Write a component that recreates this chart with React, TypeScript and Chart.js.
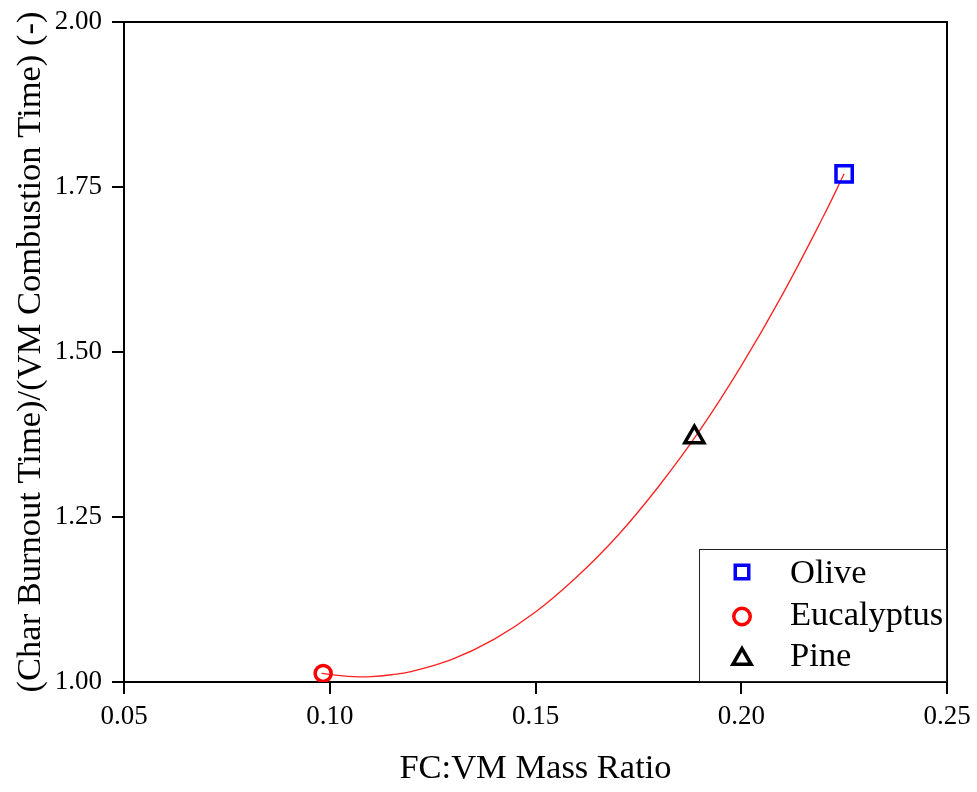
import React, { useEffect, useRef } from "react";
import { Chart, registerables } from "chart.js";

Chart.register(...registerables);

// Measured points
const oliveX = [0.225];
const oliveY = [1.77];
const eucalyptusX = [0.0984];
const eucalyptusY = [1.013];
const pineX = [0.1886];
const pineY = [1.371];

// Fitted curve
const curveX = [0.098, 0.102, 0.106, 0.11, 0.115, 0.12, 0.13, 0.14, 0.15, 0.16, 0.17, 0.18, 0.19, 0.2, 0.21, 0.22, 0.225];
const curveY = [1.013, 1.01, 1.008, 1.008, 1.011, 1.016, 1.035, 1.065, 1.106, 1.159, 1.222, 1.297, 1.382, 1.479, 1.587, 1.706, 1.77];

const xTicks = [0.05, 0.1, 0.15, 0.2, 0.25];
const yTicks = [1.0, 1.25, 1.5, 1.75, 2.0];

const legendLabels = ["Olive", "Eucalyptus", "Pine"];
const legendColors = ["#0000ff", "#ff0000", "#000000"];
const legendShapes = ["rect", "circle", "triangle"];

const FONT = "'Liberation Serif', 'Times New Roman', serif";

const zip = (xs: number[], ys: number[]) => xs.map((x, i) => ({ x, y: ys[i] }));

const framePlugin = {
  id: "frame",
  afterDraw(chart: any) {
    const { ctx, chartArea: a } = chart;
    ctx.save();
    ctx.strokeStyle = "#000";
    ctx.lineWidth = 2;
    ctx.beginPath();
    ctx.moveTo(a.left, a.top);
    ctx.lineTo(a.right, a.top);
    ctx.lineTo(a.right, a.bottom);
    ctx.stroke();

    // legend box
    const bx = a.right - 248;
    const by = a.bottom - 133;
    ctx.fillStyle = "#fff";
    ctx.fillRect(bx, by, 248, 133);
    ctx.lineWidth = 1;
    ctx.strokeStyle = "#222";
    ctx.strokeRect(bx + 0.5, by + 0.5, 247, 132);

    const rows = [574, 615.5, 657].map((v) => v - 682 + a.bottom);
    const mx = bx + 43;
    const tx = bx + 91;
    ctx.font = `34.5px ${FONT}`;
    ctx.textBaseline = "middle";
    ctx.textAlign = "left";
    legendLabels.forEach((label, i) => {
      const y = rows[i];
      ctx.strokeStyle = legendColors[i];
      ctx.lineWidth = 3.5;
      ctx.beginPath();
      if (legendShapes[i] === "rect") {
        ctx.rect(mx - 6.75, y - 2 - 6.75, 13.5, 13.5);
      } else if (legendShapes[i] === "circle") {
        ctx.arc(mx, y + 1, 8.25, 0, Math.PI * 2);
      } else {
        const r = 10.5;
        const cy = y + 2;
        ctx.moveTo(mx, cy - r);
        ctx.lineTo(mx + r * Math.sin((2 * Math.PI) / 3), cy - r * Math.cos((2 * Math.PI) / 3));
        ctx.lineTo(mx + r * Math.sin((4 * Math.PI) / 3), cy - r * Math.cos((4 * Math.PI) / 3));
        ctx.closePath();
      }
      ctx.stroke();
      ctx.fillStyle = "#000";
      ctx.fillText(label, tx, y);
    });
    ctx.restore();
  },
};

export default function App() {
  const ref = useRef<HTMLCanvasElement>(null);
  useEffect(() => {
    document.body.style.margin = "0";
    const chart = new Chart(ref.current!, {
      type: "scatter",
      data: {
        datasets: [
          {
            label: "fit",
            data: zip(curveX, curveY),
            showLine: true,
            borderColor: "#ff2020",
            borderWidth: 1.3,
            pointRadius: 0,
            tension: 0.4,
            order: 4,
          },
          {
            label: "Olive",
            data: zip(oliveX, oliveY),
            pointStyle: "rect",
            pointRadius: 11.5,
            borderColor: "#0000ff",
            backgroundColor: "rgba(0,0,0,0)",
            borderWidth: 3.5,
          },
          {
            label: "Eucalyptus",
            data: zip(eucalyptusX, eucalyptusY),
            pointStyle: "circle",
            pointRadius: 8,
            borderColor: "#ff0000",
            backgroundColor: "rgba(0,0,0,0)",
            borderWidth: 3.5,
          },
          {
            label: "Pine",
            data: zip(pineX, pineY),
            pointStyle: "triangle",
            pointRadius: 11,
            borderColor: "#000000",
            backgroundColor: "rgba(0,0,0,0)",
            borderWidth: 3.5,
          },
        ],
      },
      options: {
        animation: false,
        responsive: true,
        maintainAspectRatio: false,
        layout: { padding: { top: 22, right: 30, left: 0, bottom: 0 } },
        plugins: { legend: { display: false }, tooltip: { enabled: false } },
        scales: {
          x: {
            type: "linear",
            min: 0.05,
            max: 0.25,
            afterFit: (s: any) => {
              s.height = 110;
              s.paddingLeft = 0;
              s.paddingRight = 0;
            },
            afterBuildTicks: (s: any) => {
              s.ticks = xTicks.map((v) => ({ value: v }));
            },
            ticks: {
              callback: (v: any) => Number(v).toFixed(2),
              color: "#000",
              font: { family: FONT, size: 27 },
              padding: 7,
              maxRotation: 0,
            },
            grid: {
              drawOnChartArea: false,
              drawTicks: true,
              tickLength: 12,
              color: "#000",
              lineWidth: 2,
            },
            border: { display: true, color: "#000", width: 2 },
            title: {
              display: true,
              text: "FC:VM Mass Ratio",
              color: "#000",
              font: { family: FONT, size: 34.5 },
              padding: { top: 0, bottom: 2 },
            },
          },
          y: {
            type: "linear",
            min: 1,
            max: 2,
            afterFit: (s: any) => {
              s.width = 124;
              s.paddingTop = 0;
              s.paddingBottom = 0;
            },
            afterBuildTicks: (s: any) => {
              s.ticks = yTicks.map((v) => ({ value: v }));
            },
            ticks: {
              callback: (v: any) => Number(v).toFixed(2),
              color: "#000",
              font: { family: FONT, size: 27 },
              padding: 10,
            },
            grid: {
              drawOnChartArea: false,
              drawTicks: true,
              tickLength: 12,
              color: "#000",
              lineWidth: 2,
            },
            border: { display: true, color: "#000", width: 2 },
            title: {
              display: true,
              text: "(Char Burnout Time)/(VM Combustion Time) (-)",
              color: "#000",
              font: { family: FONT, size: 34.5 },
              padding: { top: 10, bottom: 0 },
            },
          },
        },
      },
      plugins: [framePlugin],
    });
    return () => chart.destroy();
  }, []);
  return (
    <div style={{ width: 977, height: 792, position: "relative" }}>
      <canvas ref={ref} />
    </div>
  );
}
